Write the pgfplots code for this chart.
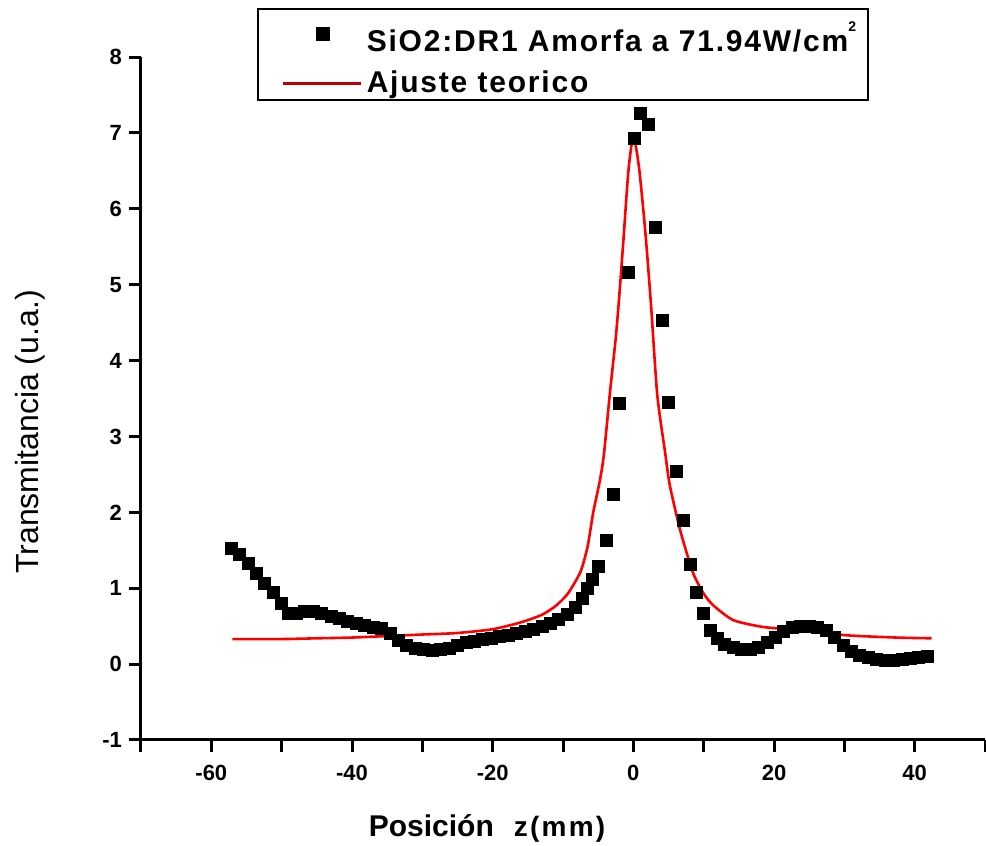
\documentclass[border=0pt]{standalone}
\usepackage{fontspec}
\setmainfont{Liberation Sans}
\usepackage{pgfplots}
\pgfplotsset{compat=1.18}
\begin{document}
\begin{tikzpicture}
\begin{axis}[
 name=ax,
 scale only axis,
 width=422pt, height=341.5pt,
 xmin=-70, xmax=50, ymin=-1, ymax=8,
 axis lines*=left,
 axis line style={line width=1.5pt},
 tick align=outside,
 major tick length=6pt,
 minor tick length=6pt,
 every tick/.style={black, line width=1.5pt},
 xtick={-60,-40,...,40},
 minor xtick={-70,-50,...,50},
 ytick={-1,0,...,8},
 /pgf/number format/assume math mode=true,
 ticklabel style={font=\bfseries\fontsize{11}{13}\selectfont},
 xticklabel style={yshift=-3pt},
 xlabel={{\bfseries\fontsize{15}{18}\selectfont Posición}\hspace{10pt}{\bfseries\fontsize{14}{18}\selectfont\addfontfeature{LetterSpace=8}z(mm)}},
 xlabel style={at={(axis description cs:0.41,-0.129)},anchor=center},
 ylabel={\fontsize{16}{19}\selectfont Transmitancia (u.a.)},
 ylabel style={at={(axis description cs:-0.1315,0.451)},anchor=center,rotate=0},
 legend style={at={(rel axis cs:0.1374,1.0717)},anchor=north west,draw=black,line width=1pt,
   font=\bfseries\fontsize{15}{17}\selectfont\addfontfeature{LetterSpace=6},
   inner xsep=4pt, inner ysep=0pt, row sep=4.5pt},
 legend cell align=left,
 clip=false,
]
\addplot[only marks, mark=square*, mark size=3pt, black,
  legend image code/.code={\path (0pt,0pt); \draw[black,mark=square*,mark size=3pt] plot coordinates {(28pt,0pt)};\path (47pt,0pt);}]
 coordinates {
(-57.1,1.53) (-56.0,1.44) (-54.8,1.33) (-53.6,1.20) (-52.4,1.07) (-51.2,0.94)
(-50.0,0.80) (-49.0,0.67) (-47.9,0.67) (-46.7,0.69) (-45.5,0.69) (-44.3,0.67)
(-43.0,0.63) (-41.8,0.60) (-40.6,0.56) (-39.4,0.53) (-38.2,0.51) (-37.0,0.49)
(-35.8,0.47) (-34.6,0.40) (-33.4,0.31) (-32.2,0.24) (-31.0,0.21) (-29.8,0.19)
(-28.6,0.18) (-27.4,0.19) (-26.2,0.21) (-25.0,0.25) (-23.8,0.28) (-22.6,0.30)
(-21.4,0.32) (-20.2,0.34) (-19.0,0.36) (-17.8,0.38) (-16.6,0.40) (-15.4,0.43)
(-14.2,0.46) (-13.0,0.50) (-11.8,0.54) (-10.6,0.59) (-9.4,0.66) (-8.3,0.75)
(-7.3,0.87) (-6.5,1.00) (-5.8,1.12) (-4.9,1.29) (-3.8,1.63) (-2.8,2.23)
(-2.0,3.43) (-0.7,5.16) (0.15,6.93) (1.0,7.26) (2.1,7.11) (3.1,5.76)
(4.1,4.53) (5.0,3.45) (6.1,2.54) (7.1,1.90) (8.1,1.32) (9.0,0.95)
(10.0,0.67) (10.9,0.45) (11.9,0.34) (13.0,0.26) (14.2,0.22) (15.4,0.19)
(16.6,0.19) (17.8,0.22) (19.0,0.28) (20.2,0.35) (21.4,0.43) (22.6,0.48)
(23.8,0.50) (25.0,0.50) (26.2,0.49) (27.4,0.44) (28.6,0.35) (29.8,0.25)
(31.0,0.17) (32.2,0.12) (33.4,0.09) (34.6,0.06) (35.8,0.05) (37.0,0.05)
(38.2,0.06) (39.4,0.08) (40.6,0.09) (41.8,0.10)
};
\addlegendentry{\rule{0pt}{19pt}SiO2:DR1 Amorfa a 71.94W/cm\raisebox{10pt}[0pt][0pt]{\fontsize{7}{7}\selectfont 2}}
\addplot[red, line width=1.3pt, smooth, tension=0.4,
  legend image code/.code={\path (0pt,0pt); \draw[draw=red!75!black,line width=1.5pt] (8pt,0pt) -- (47pt,0pt);}]
 coordinates {
(-57,0.33) (-50,0.33) (-45,0.34) (-40,0.35) (-35,0.37) (-30,0.39) (-25,0.41)
(-20,0.46) (-16,0.55) (-13,0.65) (-11,0.77) (-9.3,0.93) (-7.5,1.22) (-6.5,1.55)
(-5.7,2.0) (-4.8,2.4) (-4.2,2.75) (-3.3,3.6) (-2.5,4.3) (-2.0,4.85) (-1.4,5.6)
(-0.7,6.5) (0,6.95) (0.8,6.55) (1.7,5.7) (2.5,4.75) (3.4,3.55) (4.5,2.8)
(5.2,2.35) (6.7,1.75) (8.5,1.2) (10,0.93) (11.3,0.78) (14.2,0.58) (18.4,0.49)
(23.2,0.45) (30.3,0.38) (37.4,0.35) (42.4,0.34)
};
\addlegendentry{Ajuste teorico}
\end{axis}
\pgfresetboundingbox
\path ([shift={(-70.5pt,-53pt)}]ax.south west) rectangle ([shift={(0.5pt,28.5pt)}]ax.north east);
\end{tikzpicture}
\end{document}
